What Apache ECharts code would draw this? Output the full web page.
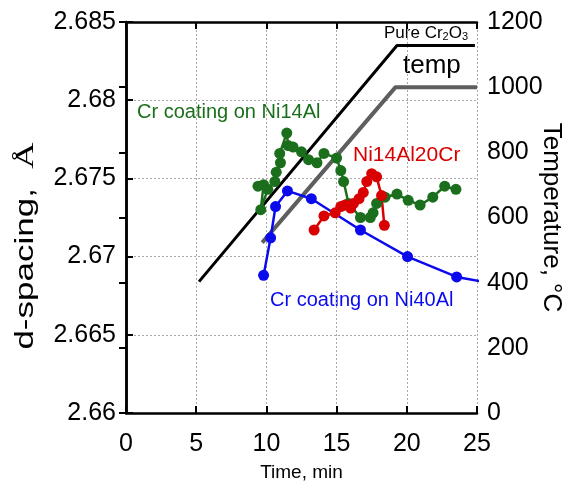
<!DOCTYPE html>
<html>
<head>
<meta charset="utf-8">
<script src="https://cdn.jsdelivr.net/npm/echarts@6/dist/echarts.min.js"></script>
<style>
  html, body { margin: 0; padding: 0; background: #fff; }
  #chart { width: 565px; height: 484px; }
</style>
</head>
<body>
<div id="chart"></div>
<script>
// d-spacing (time in min, d in Å)
const ni14alTime = [9.4, 9.8, 9.6, 10.1, 10.6, 10.7, 11.0, 10.95, 11.45, 11.55, 11.9, 12.5, 13.0, 13.6, 14.1, 15.0, 15.3, 15.5, 15.85, 16.7, 17.4, 17.6, 17.85, 18.45, 19.3, 20.1, 20.95, 21.85, 22.7, 23.5]
const ni14alD = [2.6745, 2.6746, 2.6730, 2.6743, 2.6748, 2.6754, 2.6760, 2.6766, 2.6779, 2.6771, 2.6770, 2.6767, 2.6762, 2.6760, 2.6766, 2.6763, 2.6755, 2.6748, 2.6734, 2.6725, 2.6725, 2.6728, 2.6734, 2.6738, 2.6740, 2.6736, 2.6733, 2.6738, 2.6745, 2.6743]

const ni14al20crTime = [13.4, 14.1, 14.9, 15.3, 15.6, 16.0, 16.2, 16.6, 16.9, 17.15, 17.5, 17.85, 18.2, 18.4]
const ni14al20crD = [2.6717, 2.6726, 2.6728, 2.6732, 2.6733, 2.6731, 2.6734, 2.6737, 2.6741, 2.6748, 2.6753, 2.6751, 2.6739, 2.6720]

// last point lies just past the right edge, the line runs out of the frame
const ni40alTime = [9.8, 10.3, 10.65, 11.5, 13.2, 16.7, 20.05, 23.55, 26.0]
const ni40alD = [2.6688, 2.6712, 2.6732, 2.6742, 2.6737, 2.6717, 2.6700, 2.6687, 2.6683]

const cr2o3Time = [5.2, 19.3, 24.85]
const cr2o3D = [2.6684, 2.6835, 2.6835]

// temperature profile, right axis (°C)
const tempTime = [9.7, 19.2, 25]
const tempC = [523, 1000, 1000]

const pairs = (xs, ys) => xs.map((x, i) => [x, ys[i]])

const FONT = 'Liberation Sans, Arial, sans-serif'
const GREEN = '#1b6e1b'
const RED = '#d80000'
const BLUE = '#0a0aec'

const chart = echarts.init(document.getElementById('chart'))

const xBase = {
  type: 'value',
  min: 0,
  max: 25,
  interval: 5,
  axisLine: { lineStyle: { color: '#000', width: 2.5 } },
  axisTick: { inside: true, length: 7, lineStyle: { color: '#000', width: 2 } }
}

function dotSeries(name, data, color) {
  return {
    name,
    type: 'line',
    data,
    symbol: 'circle',
    symbolSize: 11,
    showAllSymbol: true,
    clip: true,
    itemStyle: { color },
    lineStyle: { color, width: 2.5 }
  }
}

chart.setOption({
  animation: false,
  grid: { left: 126, right: 88, top: 22, bottom: 71, outerBoundsMode: 'none' },
  xAxis: [
    {
      ...xBase,
      position: 'bottom',
      name: 'Time, min',
      nameLocation: 'middle',
      nameGap: 50,
      nameMoveOverlap: false,
      nameTextStyle: { fontFamily: FONT, fontSize: 19, color: '#000' },
      axisLabel: { fontFamily: FONT, fontSize: 25, color: '#000', margin: 19, showMinLabel: true, showMaxLabel: true },
      splitLine: { show: true, lineStyle: { color: '#a8a8a8', type: [2, 2], width: 1 } }
    },
    {
      ...xBase,
      position: 'top',
      axisLabel: { show: false },
      splitLine: { show: false }
    }
  ],
  yAxis: [
    {
      type: 'value',
      min: 2.66,
      max: 2.685,
      interval: 0.005,
      position: 'left',
      axisLine: { show: true, lineStyle: { color: '#000', width: 2.5 } },
      axisTick: { show: true, inside: true, length: 7, lineStyle: { color: '#000', width: 2 } },
      axisLabel: {
        fontFamily: FONT, fontSize: 25, color: '#000', margin: 10,
        formatter: v => String(+v.toFixed(3))
      },
      splitLine: { show: true, lineStyle: { color: '#a8a8a8', type: [2, 2], width: 1 } }
    },
    {
      type: 'value',
      min: 0,
      max: 1200,
      interval: 200,
      position: 'right',
      name: 'Temperature, °C',
      nameLocation: 'middle',
      nameRotate: -90,
      nameGap: 61,
      nameMoveOverlap: false,
      nameTextStyle: { fontFamily: FONT, fontSize: 26, color: '#000', padding: [0, 0, 0, 0] },
      axisLine: { show: true, lineStyle: { color: '#000', width: 2.5 } },
      axisTick: { show: true, inside: true, length: 7, lineStyle: { color: '#000', width: 2 } },
      axisLabel: { fontFamily: FONT, fontSize: 25, color: '#000', margin: 10, formatter: v => String(v) },
      splitLine: { show: false }
    }
  ],
  graphic: [
    {
      type: 'text', x: 26, y: 246, rotation: Math.PI / 2, scaleX: 1.4,
      style: {
        text: 'd-spacing,  {a|Å}',
        font: '25px ' + FONT,
        fill: '#000',
        align: 'center',
        verticalAlign: 'middle',
        rich: { a: { fontFamily: 'Liberation Serif', fontSize: 26, fill: '#000' } }
      }
    },
    {
      type: 'text', x: 384, y: 33,
      style: {
        text: 'Pure Cr{s|2}O{s|3}',
        font: '17px ' + FONT,
        fill: '#000',
        align: 'left',
        verticalAlign: 'middle',
        rich: { s: { fontSize: 11, fontFamily: FONT, fill: '#000', padding: [8, 0, 0, 0] } }
      }
    },
    {
      type: 'text', x: 403, y: 66,
      style: { text: 'temp', font: '26px ' + FONT, fill: '#000', align: 'left', verticalAlign: 'middle' }
    },
    {
      type: 'text', x: 137, y: 112,
      style: { text: 'Cr coating on Ni14Al', font: '20px ' + FONT, fill: GREEN, align: 'left', verticalAlign: 'middle' }
    },
    {
      type: 'text', x: 353, y: 155,
      style: { text: 'Ni14Al20Cr', font: '21px ' + FONT, fill: RED, align: 'left', verticalAlign: 'middle' }
    },
    {
      type: 'text', x: 270, y: 300,
      style: { text: 'Cr coating on Ni40Al', font: '20px ' + FONT, fill: BLUE, align: 'left', verticalAlign: 'middle' }
    }
  ],
  series: [
    {
      name: 'Pure Cr2O3',
      type: 'line',
      data: pairs(cr2o3Time, cr2o3D),
      symbol: 'none',
      lineStyle: { color: '#000', width: 3 }
    },
    {
      name: 'temp',
      type: 'line',
      yAxisIndex: 1,
      data: pairs(tempTime, tempC),
      symbol: 'none',
      lineStyle: { color: '#5e5e5e', width: 4 }
    },
    dotSeries('Cr coating on Ni14Al', pairs(ni14alTime, ni14alD), GREEN),
    dotSeries('Ni14Al20Cr', pairs(ni14al20crTime, ni14al20crD), RED),
    dotSeries('Cr coating on Ni40Al', pairs(ni40alTime, ni40alD), BLUE)
  ]
})
</script>
</body>
</html>
